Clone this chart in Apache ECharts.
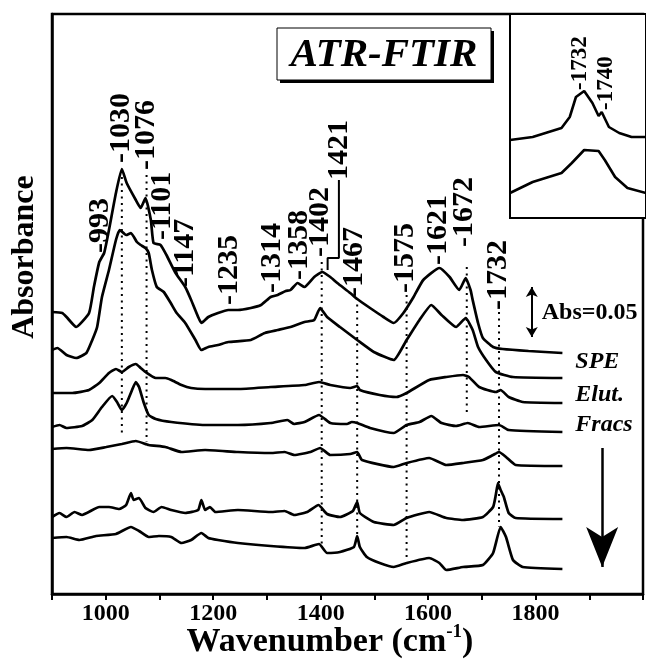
<!DOCTYPE html>
<html>
<head>
<meta charset="utf-8">
<script src="https://cdn.jsdelivr.net/npm/echarts@6/dist/echarts.min.js"></script>
<style>
html,body{margin:0;padding:0;background:#fff;}
#c{width:646px;height:661px;}
</style>
</head>
<body>
<div id="c"></div>
<script>
// ---------- data (wavenumber cm-1, absorbance) ----------
const wn1 = [900,919,927,945,969,978,988,997,1006,1019,1030,1039,1056,1065,1074,1084,1089,1102,1113,1130,1148,1159,1172,1178,1191,1209,1228,1246,1270,1289,1307,1320,1335,1344,1357,1370,1388,1403,1418,1431,1455,1468,1492,1517,1536,1554,1573,1591,1621,1640,1658,1670,1679,1683,1693,1702,1721,1739,1787,1850];
const ab1 = [0.282,0.281,0.277,0.267,0.281,0.307,0.332,0.341,0.364,0.401,0.425,0.411,0.394,0.386,0.396,0.374,0.351,0.349,0.339,0.321,0.307,0.294,0.277,0.271,0.277,0.281,0.284,0.284,0.286,0.289,0.297,0.299,0.303,0.304,0.311,0.307,0.317,0.322,0.317,0.311,0.301,0.295,0.286,0.277,0.271,0.281,0.297,0.314,0.326,0.317,0.304,0.316,0.304,0.294,0.271,0.256,0.247,0.245,0.243,0.241];

const wn2 = [900,910,927,945,964,975,984,993,1006,1019,1026,1038,1047,1058,1065,1074,1080,1086,1095,1108,1121,1132,1148,1167,1178,1191,1209,1228,1270,1296,1320,1344,1370,1388,1399,1412,1436,1468,1499,1536,1560,1584,1606,1625,1652,1670,1683,1693,1708,1726,1758,1850];
const ab2 = [0.244,0.246,0.239,0.236,0.241,0.254,0.267,0.297,0.324,0.354,0.364,0.359,0.361,0.352,0.349,0.346,0.341,0.324,0.307,0.302,0.291,0.281,0.271,0.254,0.244,0.247,0.249,0.252,0.254,0.261,0.264,0.267,0.272,0.274,0.286,0.277,0.267,0.254,0.242,0.234,0.254,0.274,0.289,0.279,0.267,0.276,0.264,0.247,0.234,0.222,0.217,0.216];

const wn3 = [900,938,969,988,1006,1019,1030,1043,1056,1065,1074,1093,1111,1122,1141,1159,1185,1246,1307,1370,1397,1418,1455,1468,1473,1510,1541,1560,1602,1634,1665,1676,1695,1726,1735,1750,1776,1850];
const ab3 = [0.201,0.201,0.204,0.211,0.221,0.225,0.222,0.227,0.230,0.226,0.222,0.216,0.216,0.214,0.209,0.206,0.205,0.205,0.207,0.209,0.212,0.209,0.206,0.208,0.204,0.199,0.197,0.201,0.214,0.217,0.219,0.217,0.207,0.202,0.204,0.197,0.192,0.191];

const wn4 = [900,914,927,956,975,993,1012,1021,1030,1039,1049,1056,1062,1071,1080,1093,1122,1185,1246,1307,1338,1351,1370,1397,1418,1449,1458,1468,1492,1536,1560,1584,1606,1625,1652,1674,1695,1732,1750,1850];
const ab4 = [0.167,0.169,0.166,0.168,0.174,0.187,0.198,0.192,0.184,0.191,0.204,0.212,0.207,0.191,0.179,0.175,0.172,0.169,0.169,0.171,0.174,0.170,0.172,0.179,0.171,0.170,0.172,0.171,0.166,0.161,0.169,0.172,0.178,0.171,0.168,0.171,0.167,0.169,0.164,0.162];

const wn5 = [900,927,969,1001,1030,1056,1080,1111,1141,1185,1246,1307,1333,1351,1381,1399,1418,1455,1468,1477,1536,1560,1602,1634,1665,1702,1721,1732,1745,1763,1850];
const ab5 = [0.145,0.146,0.144,0.147,0.150,0.153,0.149,0.147,0.142,0.144,0.142,0.141,0.142,0.139,0.142,0.146,0.139,0.140,0.142,0.134,0.127,0.131,0.136,0.129,0.131,0.134,0.139,0.142,0.137,0.129,0.128];

const wn6 = [900,914,927,942,956,988,1006,1025,1038,1047,1052,1062,1074,1089,1104,1122,1148,1172,1178,1185,1194,1204,1246,1307,1333,1351,1375,1396,1412,1436,1460,1468,1473,1499,1536,1560,1602,1634,1665,1702,1721,1726,1730,1735,1741,1750,1763,1850];
const ab6 = [0.077,0.081,0.077,0.082,0.079,0.087,0.087,0.085,0.089,0.101,0.094,0.096,0.086,0.082,0.087,0.084,0.081,0.084,0.094,0.084,0.087,0.082,0.084,0.082,0.083,0.079,0.082,0.089,0.080,0.077,0.083,0.092,0.081,0.072,0.069,0.076,0.082,0.076,0.074,0.077,0.087,0.099,0.111,0.104,0.097,0.081,0.076,0.075];

const wn7 = [900,927,951,982,1019,1047,1062,1080,1099,1122,1141,1159,1178,1191,1209,1246,1307,1370,1397,1412,1436,1462,1468,1473,1486,1510,1536,1560,1602,1621,1634,1665,1702,1721,1735,1745,1758,1776,1850];
const ab7 = [0.056,0.057,0.054,0.058,0.060,0.067,0.063,0.057,0.058,0.057,0.051,0.054,0.061,0.056,0.054,0.051,0.048,0.046,0.050,0.041,0.042,0.047,0.058,0.047,0.037,0.031,0.027,0.031,0.036,0.031,0.024,0.027,0.029,0.041,0.067,0.057,0.034,0.027,0.025];

// inset (carbonyl region)
const insetWnA = [1696,1707,1721,1725,1728,1732,1736,1739,1740.5,1744,1749,1755,1762];
const insetAbA  = [0.078,0.081,0.090,0.101,0.121,0.127,0.115,0.102,0.106,0.091,0.085,0.081,0.081];
const insetWnB = [1696,1707,1721,1726,1732,1739,1742,1747,1753,1762];
const insetAbB  = [0.025,0.036,0.045,0.055,0.068,0.067,0.058,0.041,0.030,0.025];

// x tick labels
const xTickLabels = [1000,1200,1400,1600,1800];

// peak labels: text, position (cm-1), absorbance at text bottom
const peakText = ['-993','-1030','-1076','-1101','-1147','-1235','-1314','-1358','-1402','1421','-1467','-1575','-1621','-1672','-1732'];
const peakAt   = [990,1028,1076,1105,1148,1230,1310,1360,1400,1434,1462,1558,1618,1668,1730];
const peakBase = [0.341,0.431,0.424,0.354,0.307,0.289,0.301,0.314,0.337,0.414,0.297,0.301,0.329,0.347,0.284];

// dotted guide lines: position, top, bottom absorbance
const guideAt  = [1030,1076,1402,1468,1560,1672,1732];
const guideTop = [0.417,0.419,0.332,0.296,0.299,0.327,0.282];
const guideBot = [0.159,0.152,0.047,0.057,0.037,0.181,0.067];

// leader for 1421
const leaderWn = [1434,1434,1413,1413];
const leaderAb = [0.414,0.336,0.336,0.324];

// inset labels
const insetText = ['-1732','-1740'];
const insetAt   = [1730,1742.4];
const insetBase = [0.128,0.108];

// series labels
const seriesText = ['SPE','Elut.','Fracs'];
const seriesAb   = [0.232,0.199,0.169];
const seriesAt   = 1874;

// scale bar and order arrow
const scaleBar = {at:1793, from:0.257, to:0.307, text:'Abs=0.05'};
const orderArrow = {at:1924, from:0.146, to:0.027};

// ---------- chart ----------
const chart = echarts.init(document.getElementById('c'), null, {renderer:'canvas'});
const SERIF = '"Liberation Serif","Times New Roman",serif';
const zip = (a,b)=>a.map((v,i)=>[v,b[i]]);
const curves = [[wn1,ab1],[wn2,ab2],[wn3,ab3],[wn4,ab4],[wn5,ab5],[wn6,ab6],[wn7,ab7]];

const series = curves.map(c=>({
  type:'line', xAxisIndex:0, yAxisIndex:0, data:zip(c[0],c[1]),
  showSymbol:false, symbol:'none', smooth:0.15, silent:true,
  lineStyle:{color:'#000', width:2.7}
}));

// dotted guides
guideAt.forEach((g,i)=>{
  series.push({type:'line', xAxisIndex:0, yAxisIndex:0, data:[[g,guideTop[i]],[g,guideBot[i]]],
    showSymbol:false, symbol:'none', silent:true,
    lineStyle:{color:'#000', width:2, type:[2,4.5]}});
});
// leader
series.push({type:'line', xAxisIndex:0, yAxisIndex:0, data:zip(leaderWn,leaderAb),
  showSymbol:false, symbol:'none', silent:true, lineStyle:{color:'#000', width:2}});
// arrows via markLine
series.push({type:'line', xAxisIndex:0, yAxisIndex:0, data:[], silent:true,
  markLine:{silent:true, animation:false, label:{show:false},
    data:[
      [{coord:[scaleBar.at,scaleBar.from], symbol:'arrow', symbolSize:[9,10], lineStyle:{color:'#000',width:2,type:'solid'}},
       {coord:[scaleBar.at,scaleBar.to], symbol:'arrow', symbolSize:[9,10]}],
      [{coord:[orderArrow.at,orderArrow.from], symbol:'none', lineStyle:{color:'#000',width:2.5,type:'solid'}},
       {coord:[orderArrow.at,orderArrow.to], symbol:'arrow', symbolSize:[24,40]}]
    ]}
});
// inset curves
[[insetWnA,insetAbA],[insetWnB,insetAbB]].forEach(c=>{
  series.push({type:'line', xAxisIndex:1, yAxisIndex:1, data:zip(c[0],c[1]),
    showSymbol:false, symbol:'none', silent:true, lineStyle:{color:'#000', width:2.6}});
});

const option = {
  animation:false,
  backgroundColor:'#fff',
  grid:[
    {left:52, top:14, right:-2, bottom:67, show:true, borderColor:'#000', borderWidth:2.5, backgroundColor:'transparent'},
    {left:510, top:14, right:-4, bottom:443, show:true, borderColor:'#000', borderWidth:2, backgroundColor:'#fff', z:3}
  ],
  xAxis:[
    {type:'value', gridIndex:0, min:900, max:2000, interval:100,
     axisLine:{show:true, lineStyle:{color:'#000', width:2.5}},
     axisTick:{show:true, length:6, lineStyle:{color:'#000', width:2}},
     splitLine:{show:false},
     axisLabel:{color:'#000', fontFamily:SERIF, fontWeight:'bold', fontSize:24, margin:8,
       formatter:v=> xTickLabels.indexOf(v)>=0 ? String(v) : ''}},
    {type:'value', gridIndex:1, min:1696, max:1762, show:false}
  ],
  yAxis:[
    {type:'value', gridIndex:0, min:0, max:0.58,
     axisLine:{show:true, lineStyle:{color:'#000', width:2.5}},
     axisTick:{show:false}, axisLabel:{show:false}, splitLine:{show:false}},
    {type:'value', gridIndex:1, min:0, max:0.204, show:false}
  ],
  series:series
};
chart.setOption(option);

// ---------- annotations positioned from data coordinates ----------
const px0 = v=>chart.convertToPixel({gridIndex:0},v);
const px1 = v=>chart.convertToPixel({gridIndex:1},v);
const g = [];
peakText.forEach((t,i)=>{
  const p = px0([peakAt[i],peakBase[i]]);
  g.push({type:'text', x:p[0], y:p[1], rotation:Math.PI/2, z:10,
    style:{text:t, fill:'#000', font:'bold 30px '+SERIF, align:'left', verticalAlign:'middle'}});
});
insetText.forEach((t,i)=>{
  const p = px1([insetAt[i],insetBase[i]]);
  g.push({type:'text', x:p[0], y:p[1], rotation:Math.PI/2, z:10,
    style:{text:t, fill:'#000', font:'bold 23px '+SERIF, align:'left', verticalAlign:'middle'}});
});
seriesText.forEach((t,i)=>{
  const p = px0([seriesAt,seriesAb[i]]);
  g.push({type:'text', x:p[0], y:p[1], z:10,
    style:{text:t, fill:'#000', font:'italic bold 24px '+SERIF, align:'left', verticalAlign:'middle'}});
});
{
  const p = px0([scaleBar.at,(scaleBar.from+scaleBar.to)/2]);
  g.push({type:'text', x:p[0]+10, y:p[1]+1, z:10,
    style:{text:scaleBar.text, fill:'#000', font:'bold 24px '+SERIF, align:'left', verticalAlign:'middle'}});
}
// ATR-FTIR box
g.push({type:'rect', shape:{x:280, y:31, width:214, height:52}, style:{fill:'#000'}, z:9});
g.push({type:'rect', shape:{x:277, y:28, width:214, height:52}, style:{fill:'#fff', stroke:'#000', lineWidth:1}, z:10});
g.push({type:'text', x:384, y:55, z:11,
  style:{text:'ATR-FTIR', fill:'#000', font:'italic bold 41px '+SERIF, align:'center', verticalAlign:'middle'}});
// axis titles
g.push({type:'text', x:25, y:257, rotation:Math.PI/2, z:10,
  style:{text:'Absorbance', fill:'#000', font:'bold 32px '+SERIF, align:'center', verticalAlign:'middle'}});
g.push({type:'text', x:330, y:642, z:10,
  style:{text:'{a|Wavenumber (cm}{s|-1}{a|)}', align:'center', verticalAlign:'middle',
    rich:{a:{fill:'#000', font:'bold 34px '+SERIF, lineHeight:38},
          s:{fill:'#000', font:'bold 19px '+SERIF, lineHeight:38, verticalAlign:'top'}}}});
chart.setOption({graphic:g});
</script>
</body>
</html>
